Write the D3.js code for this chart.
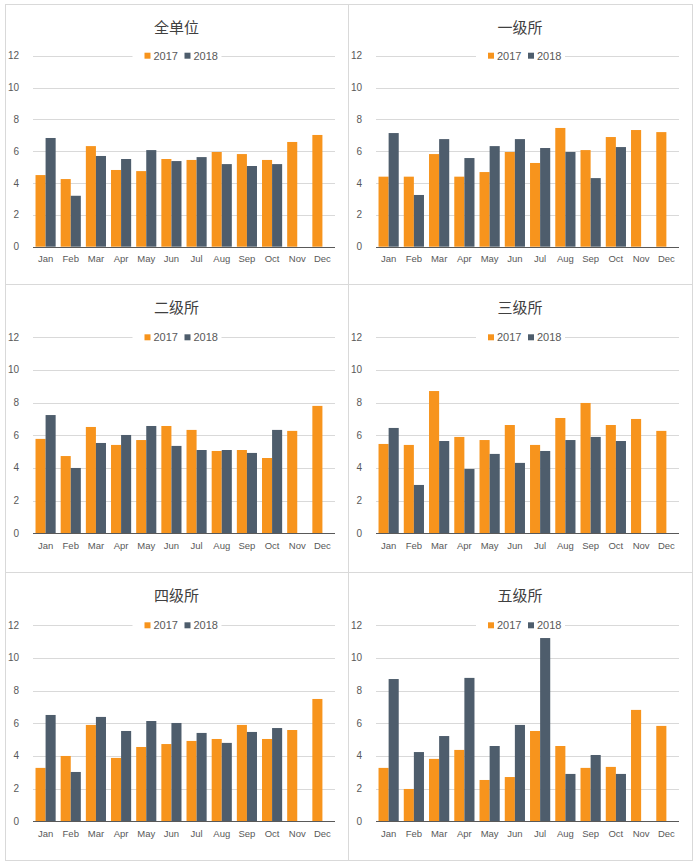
<!DOCTYPE html>
<html><head><meta charset="utf-8">
<script src="https://cdn.jsdelivr.net/npm/d3@7"></script>
<style>body{margin:0;background:#fff}svg{display:block}</style>
</head><body>
<script>
const months = ["Jan","Feb","Mar","Apr","May","Jun","Jul","Aug","Sep","Oct","Nov","Dec"];
const seriesNames = ["2017","2018"];
const yTicks = [0,2,4,6,8,10,12];
const titles = ["全单位","一级所","二级所","三级所","四级所","五级所"];

const all2017 = [4.50,4.25,6.32,4.82,4.75,5.51,5.45,5.95,5.82,5.45,6.58,7.02];
const all2018 = [6.83,3.20,5.70,5.51,6.07,5.38,5.63,5.19,5.07,5.19,null,null];
const l1_2017 = [4.40,4.40,5.82,4.40,4.69,5.95,5.26,7.46,6.07,6.89,7.33,7.20];
const l1_2018 = [7.14,3.25,6.76,5.57,6.32,6.76,6.20,5.95,4.31,6.26,null,null];
const l2_2017 = [5.78,4.73,6.51,5.41,5.71,6.57,6.33,5.04,5.10,4.61,6.27,7.80];
const l2_2018 = [7.24,4.00,5.53,6.02,6.57,5.35,5.10,5.10,4.92,6.33,null,null];
const l3_2017 = [5.47,5.41,8.71,5.90,5.71,6.63,5.41,7.06,7.98,6.63,7.00,6.27];
const l3_2018 = [6.45,2.96,5.65,3.94,4.86,4.31,5.04,5.71,5.90,5.65,null,null];
const l4_2017 = [3.27,4.00,5.90,3.88,4.55,4.73,4.92,5.04,5.90,5.04,5.59,7.49];
const l4_2018 = [6.51,3.02,6.39,5.53,6.14,6.02,5.41,4.80,5.47,5.71,null,null];
const l5_2017 = [3.27,1.98,3.82,4.37,2.53,2.71,5.53,4.61,3.27,3.33,6.82,5.84];
const l5_2018 = [8.71,4.24,5.22,8.78,4.61,5.90,11.22,2.90,4.06,2.90,null,null];

const panelData = [
  [all2017, all2018],[l1_2017, l1_2018],[l2_2017, l2_2018],
  [l3_2017, l3_2018],[l4_2017, l4_2018],[l5_2017, l5_2018]
];

const colors = ["#f7941d","#4e5d6c"];
const W = 696, H = 866;
const colX = [5, 348, 692];
const rowY = [4, 284, 572, 860];

const svg = d3.select("body").append("svg").attr("width", W).attr("height", H);
const font = "'Liberation Sans', Arial, sans-serif";

panelData.forEach((pd, i) => {
  const c = i % 2, r = Math.floor(i / 2);
  const x0 = colX[c], x1 = colX[c + 1];
  const y0 = rowY[r], y1 = rowY[r + 1];
  const g = svg.append("g");
  g.append("rect").attr("x", x0 + 0.5).attr("y", y0 + 0.5)
    .attr("width", x1 - x0).attr("height", y1 - y0)
    .attr("fill", "#fff").attr("stroke", "#d9d9d9").attr("stroke-width", 1);

  const plotL = x0 + 28, plotR = x1 - 13;
  const plotT = y0 + (r === 0 ? 51.7 : 53.3);
  const plotB = y1 - (r === 0 ? 37.3 : 38.7);

  const x = d3.scaleBand().domain(months).range([plotL, plotR]).paddingInner(0.2).paddingOuter(0.1);
  const xs = d3.scaleBand().domain(seriesNames).range([0, x.bandwidth()]);
  const y = d3.scaleLinear().domain([0, 12]).range([plotB, plotT]);

  // gridlines
  g.selectAll("line.grid").data(yTicks.filter(t => t > 0)).join("line")
    .attr("x1", plotL).attr("x2", plotR)
    .attr("y1", d => Math.round(y(d)) + 0.5).attr("y2", d => Math.round(y(d)) + 0.5)
    .attr("stroke", "#d9d9d9").attr("stroke-width", 1);

  // y labels
  g.selectAll("text.yl").data(yTicks).join("text")
    .attr("x", plotL - 14).attr("y", d => y(d)).attr("dy", "0.35em")
    .attr("text-anchor", "end").attr("font-family", font).attr("font-size", 10)
    .attr("fill", "#595959").text(d => d);

  // bars
  seriesNames.forEach((s, si) => {
    const vals = pd[si];
    g.selectAll("rect.b" + si).data(months.map((m, k) => ({m, v: vals[k]})).filter(d => d.v != null))
      .join("rect")
      .attr("x", d => x(d.m) + xs(s)).attr("width", xs.bandwidth())
      .attr("y", d => y(d.v)).attr("height", d => y(0) - y(d.v))
      .attr("fill", colors[si]);
  });

  // baseline
  g.append("line").attr("x1", plotL).attr("x2", plotR)
    .attr("y1", Math.round(y(0)) + 0.5).attr("y2", Math.round(y(0)) + 0.5)
    .attr("stroke", "#595959").attr("stroke-width", 1);

  // x labels
  g.selectAll("text.xl").data(months).join("text")
    .attr("x", d => x(d) + x.bandwidth() / 2).attr("y", y(0) + 12).attr("dy", "0.35em")
    .attr("text-anchor", "middle").attr("font-family", font).attr("font-size", 9.5)
    .attr("fill", "#595959").text(d => d);

  // title
  const cx = (x0 + x1) / 2;
  g.append("text").attr("x", cx).attr("y", y0 + 24).attr("dy", "0.35em")
    .attr("text-anchor", "middle").attr("font-family", "'Noto Sans CJK SC', sans-serif")
    .attr("font-size", 15).attr("fill", "#404040").text(titles[i]);

  // legend
  const ly = y(12);
  const lg = g.append("g");
  lg.append("rect").attr("x", cx - 44).attr("y", ly - 7).attr("width", 89).attr("height", 14).attr("fill", "#fff");
  const items = [{s: "2017", dx: -32}, {s: "2018", dx: 8}];
  items.forEach((it, k) => {
    lg.append("rect").attr("x", cx + it.dx).attr("y", ly - 3).attr("width", 6).attr("height", 6).attr("fill", colors[k]);
    lg.append("text").attr("x", cx + it.dx + 9).attr("y", ly).attr("dy", "0.35em")
      .attr("font-family", font).attr("font-size", 11).attr("fill", "#595959").text(it.s);
  });
});
</script>
</body></html>
